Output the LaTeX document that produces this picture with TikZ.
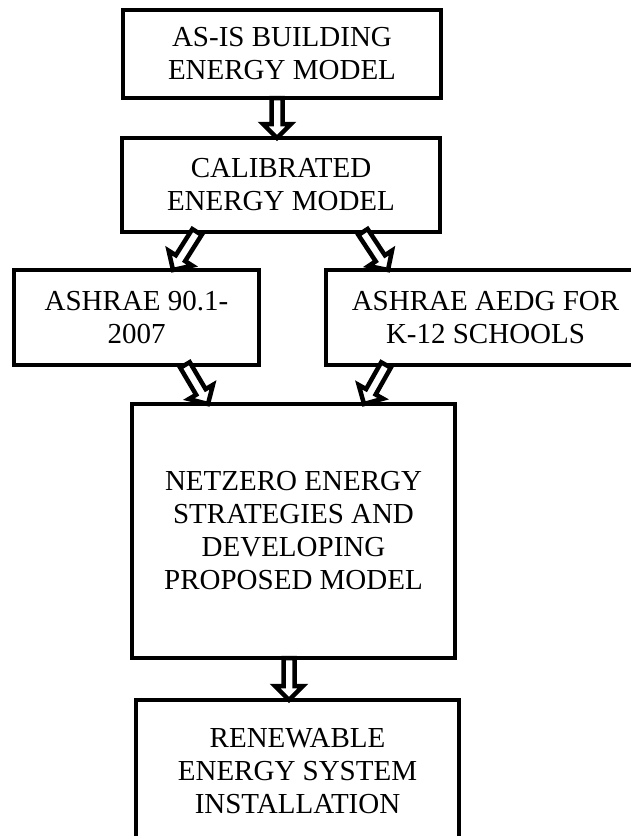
\documentclass[tikz,border=0pt]{standalone}
\usepackage{fontspec}
\setmainfont{Liberation Serif}
\usetikzlibrary{calc}
\tikzset{
  box/.style={draw, line width=3.2pt, outer sep=0pt, inner sep=0pt, align=center,
    font=\fontsize{29}{33}\selectfont},
  blockarrow/.style={draw, fill=white, line width=4.5pt, line join=miter},
}
\newcommand\blockarr[2]{%
  \coordinate (hb) at ($(#2)!14pt!(#1)$);
  \draw[blockarrow] ($(#1)!5.5pt!90:(#2)$) -- ($(hb)!5.5pt!90:(#2)$) -- ($(hb)!14pt!90:(#2)$) -- (#2)
    -- ($(hb)!14pt!-90:(#2)$) -- ($(hb)!5.5pt!-90:(#2)$) -- ($(#1)!5.5pt!-90:(#2)$) -- cycle;}
\begin{document}
\begin{tikzpicture}[x=1pt,y=-1pt]
\useasboundingbox (0,0) rectangle (631,836);
\clip (0,0) rectangle (631,836);
\node[box, minimum width=318pt, minimum height=88pt] (b1) at (282,54) {AS-IS BUILDING\\ENERGY MODEL};
\node[box, minimum width=318pt, minimum height=94pt] (b2) at (281,185) {CALIBRATED\\ENERGY MODEL};
\node[box, minimum width=245pt, minimum height=95pt] (b3) at (136.5,317.5) {ASHRAE 90.1-\\2007};
\node[box, minimum width=319pt, minimum height=95pt] (b4) at (485.5,317.5) {ASHRAE AEDG FOR\\K-12 SCHOOLS};
\node[box, minimum width=323pt, minimum height=254pt] (b5) at (293.5,531) {NETZERO ENERGY\\STRATEGIES AND\\DEVELOPING\\PROPOSED MODEL};
\node[box, minimum width=323pt, minimum height=142pt] (b6) at (297.5,771) {RENEWABLE\\ENERGY SYSTEM\\INSTALLATION};
\coordinate (a1s) at ($(b1.south west)+(154,0)$);
\coordinate (a1e) at ($(b2.north west)+(155,0)$);
\coordinate (a2s) at ($(b2.south west)+(75,0)$);
\coordinate (a2e) at ($(b3.north west)+(159,0)$);
\coordinate (a3s) at ($(b2.south west)+(241,0)$);
\coordinate (a3e) at ($(b4.north west)+(62,0)$);
\coordinate (a4s) at ($(b3.south west)+(171,0)$);
\coordinate (a4e) at ($(b5.north west)+(76,0)$);
\coordinate (a5s) at ($(b4.south west)+(60,0)$);
\coordinate (a5e) at ($(b5.north west)+(232,0)$);
\coordinate (a6s) at ($(b5.south west)+(157,0)$);
\coordinate (a6e) at ($(b6.north west)+(153,0)$);
\blockarr{a1s}{a1e}
\blockarr{a2s}{a2e}
\blockarr{a3s}{a3e}
\blockarr{a4s}{a4e}
\blockarr{a5s}{a5e}
\blockarr{a6s}{a6e}
\end{tikzpicture}
\end{document}
